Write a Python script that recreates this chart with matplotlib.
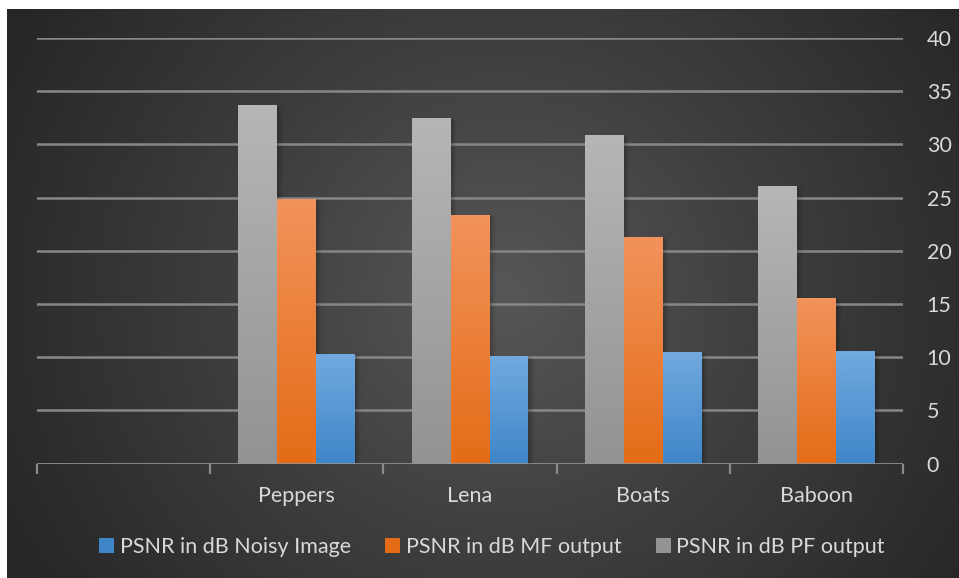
import numpy as np
import matplotlib.pyplot as plt
from matplotlib.colors import LinearSegmentedColormap
from matplotlib.patches import Rectangle

plt.rcParams['font.family'] = ['Lato', 'DejaVu Sans']

# PSNR values (dB) per test image; first slot is left empty
categories = ['', 'Peppers', 'Lena', 'Boats', 'Baboon']
psnr_noisy = [np.nan, 10.3, 10.1, 10.5, 10.6]
psnr_mf = [np.nan, 24.9, 23.4, 21.3, 15.6]
psnr_pf = [np.nan, 33.7, 32.5, 30.9, 26.1]

series_labels = ['PSNR in dB Noisy Image', 'PSNR in dB MF output', 'PSNR in dB PF output']
# (top colour, bottom colour) for each series
series_colors = [('#72aae0', '#3f86c8'), ('#f2935c', '#e46c17'), ('#b6b6b6', '#939393')]

W, H = 959, 578
fig = plt.figure(figsize=(W / 100, H / 100), dpi=100)
fig.patch.set_facecolor('white')

# dark radial background panel
bg = fig.add_axes([7 / W, 0, 1 - 7 / W, 1 - 9 / H])
bg.set_axis_off()
yy, xx = np.mgrid[0:1:300j, 0:1:500j]
r = np.sqrt(((xx - 0.52) * 1.6) ** 2 + ((yy - 0.5) * 1.0) ** 2)
r = np.clip(r / 0.95, 0, 1)
bg_cmap = LinearSegmentedColormap.from_list('bg', ['#575757', '#3d3d3d', '#262626'])
bg.imshow(r, cmap=bg_cmap, aspect='auto', extent=[0, 1, 0, 1], vmin=0, vmax=1)
bg.set_xlim(0, 1)
bg.set_ylim(0, 1)

ax = fig.add_axes([37 / W, (H - 463.5) / H, (903 - 37) / W, (463.5 - 38) / H])
ax.patch.set_alpha(0)
for s in ax.spines.values():
    s.set_visible(False)

x = np.arange(len(categories))
width = 0.225
data = [psnr_noisy, psnr_mf, psnr_pf]
offsets = [width, 0, -width]

ax.set_xlim(-0.5, len(categories) - 0.5)
ax.set_ylim(0, 40)

ax.yaxis.tick_right()
ax.set_yticks(np.arange(0, 41, 5))
ax.grid(axis='y', color='#878787', linewidth=1.8, zorder=0)
ax.set_axisbelow(True)
ax.tick_params(axis='y', length=0, pad=17, labelsize=15.5, labelcolor='#d9d9d9')

for vals, off, (c_top, c_bot) in zip(data, offsets, series_colors):
    cmap = LinearSegmentedColormap.from_list('g', [c_bot, c_top])
    grad = np.linspace(0, 1, 256).reshape(-1, 1)
    for xi, v in zip(x, vals):
        if np.isnan(v):
            continue
        left = xi + off - width / 2
        # soft shadow to the right of each bar
        for k, a in enumerate([0.10, 0.07, 0.04]):
            ax.add_patch(Rectangle((left + width, 0), 0.012 * (k + 1), v - 0.15 * k,
                                   facecolor='black', alpha=a, linewidth=0, zorder=2))
        bar = ax.bar(xi + off, v, width, color=c_top, linewidth=0, zorder=3)[0]
        im = ax.imshow(grad, cmap=cmap, aspect='auto', origin='lower',
                       extent=[left, left + width, 0, v], zorder=3.5)
        im.set_clip_path(bar)

ax.set_xlim(-0.5, len(categories) - 0.5)
ax.set_ylim(0, 40)

# category axis: boundary tick marks, centred labels
ax.axhline(0, color='#8a8a8a', linewidth=1.8, zorder=4)
ax.set_xticks(x)
ax.set_xticklabels(categories)
ax.set_xticks(np.arange(-0.5, len(categories)), minor=True)
ax.tick_params(axis='x', which='major', length=0, pad=16, labelsize=15.5, labelcolor='#d9d9d9')
ax.tick_params(axis='x', which='minor', length=7, width=1.6, color='#8a8a8a', direction='out')

handles = [Rectangle((0, 0), 1, 1, facecolor=c[1]) for c in series_colors]
leg = fig.legend(handles, series_labels, loc='center', bbox_to_anchor=(492 / W, (H - 547) / H),
                 ncol=3, frameon=False, fontsize=15.5, labelcolor='#d9d9d9',
                 handlelength=0.7, handleheight=0.7, handletextpad=0.25, columnspacing=1.6)

fig.savefig('out.png', dpi=100)
